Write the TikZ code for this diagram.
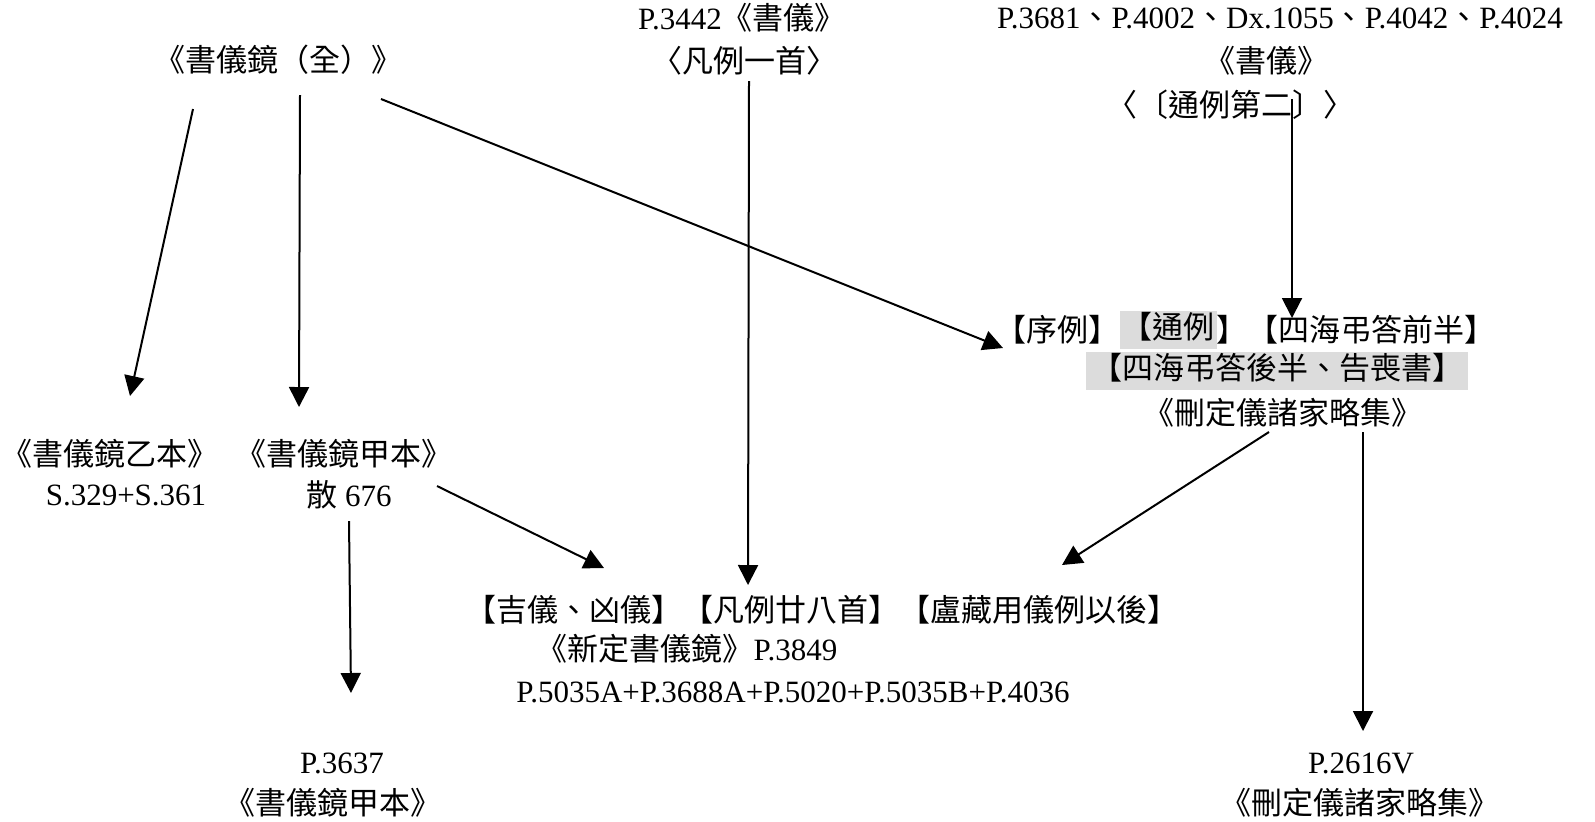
\documentclass[tikz,border=0pt]{standalone}
\usepackage{fontspec}
\setmainfont{Liberation Serif}
\newfontfamily\cjk[Scale=1.0]{Noto Sans CJK TC}
\usetikzlibrary{arrows.meta}
\newcommand{\zh}[1]{{\cjk #1}}
\definecolor{hlgray}{RGB}{220,220,220}
\begin{document}
\begin{tikzpicture}[x=0.5pt,y=-0.5pt,
  lbl/.style={inner sep=0pt, outer sep=0pt, font=\fontsize{15.5}{18}\selectfont},
  hl/.style={lbl, fill=hlgray, text height=12pt, text depth=4pt, inner ysep=1.5pt},
  arr/.style={line width=1pt, -{Triangle[length=10pt,width=10pt]}}]
\useasboundingbox (0,0) rectangle (1595,821);
% top texts
\node[lbl] (all) at (278,60) {\zh{《書儀鏡（全）》}};
\node[lbl] (p3442a) at (742,18) {P.3442\zh{《書儀》}};
\node[lbl] (p3442b) at (744,61) {\zh{〈凡例一首〉}};
\node[lbl] (tra) at (1280,18) {P.3681\zh{、}P.4002\zh{、}Dx.1055\zh{、}P.4042\zh{、}P.4024};
\node[lbl] (trb) at (1266,61) {\zh{《書儀》}};
\node[lbl] (trc) at (1230,105) {\zh{〈〔通例第二〕〉}};
% middle right
\node[hl, inner xsep=1pt] (tongli) at (1168,330) {\zh{【通例}};
\node[lbl, anchor=east] (xuli) at (tongli.west) {\zh{【序例】}};
\node[lbl, anchor=west] (sihai) at (tongli.east) {\zh{】【四海弔答前半】}};
\node[hl, inner xsep=2.5pt] (houban) at (1277,371) {\zh{【四海弔答後半、告喪書】}};
\node[lbl] (shanding) at (1283,413) {\zh{《刪定儀諸家略集》}};
% left middle
\node[lbl] (yia) at (110,454) {\zh{《書儀鏡乙本》}};
\node[lbl] (yib) at (126,495) {S.329+S.361};
\node[lbl] (jiaa) at (344,454) {\zh{《書儀鏡甲本》}};
\node[lbl] (jiab) at (349,495) {\zh{散} 676};
% bottom middle
\node[lbl] (xa) at (822,610) {\zh{【吉儀、凶儀】【凡例廿八首】【盧藏用儀例以後】}};
\node[lbl] (xb) at (687,649) {\zh{《新定書儀鏡》}P.3849};
\node[lbl] (xc) at (793,692) {P.5035A+P.3688A+P.5020+P.5035B+P.4036};
% bottom
\node[lbl] (p3637a) at (342,763) {P.3637};
\node[lbl] (p3637b) at (333,803) {\zh{《書儀鏡甲本》}};
\node[lbl] (p2616a) at (1361,763) {P.2616V};
\node[lbl] (p2616b) at (1360,803) {\zh{《刪定儀諸家略集》}};
% arrow end points
\coordinate (a1s) at (193,109); \coordinate (a1e) at (130,396);
\coordinate (a2s) at (300,95);  \coordinate (a2e) at (299,407);
\coordinate (a3s) at (381,99);  \coordinate (a3e) at (1003,348);
\coordinate (a4s) at (749,81);  \coordinate (a4e) at (748,585);
\coordinate (a5s) at (1292,99); \coordinate (a5e) at (1292,318);
\coordinate (a6s) at (1269,432); \coordinate (a6e) at (1062,565);
\coordinate (a7s) at (1363,432); \coordinate (a7e) at (1363,731);
\coordinate (a8s) at (437,486); \coordinate (a8e) at (604,568);
\coordinate (a9s) at (349,521); \coordinate (a9e) at (351,693);
\draw[arr] (a1s) -- (a1e);
\draw[arr] (a2s) -- (a2e);
\draw[arr] (a3s) -- (a3e);
\draw[arr] (a4s) -- (a4e);
\draw[arr] (a5s) -- (a5e);
\draw[arr] (a6s) -- (a6e);
\draw[arr] (a7s) -- (a7e);
\draw[arr] (a8s) -- (a8e);
\draw[arr] (a9s) -- (a9e);
\end{tikzpicture}
\end{document}
